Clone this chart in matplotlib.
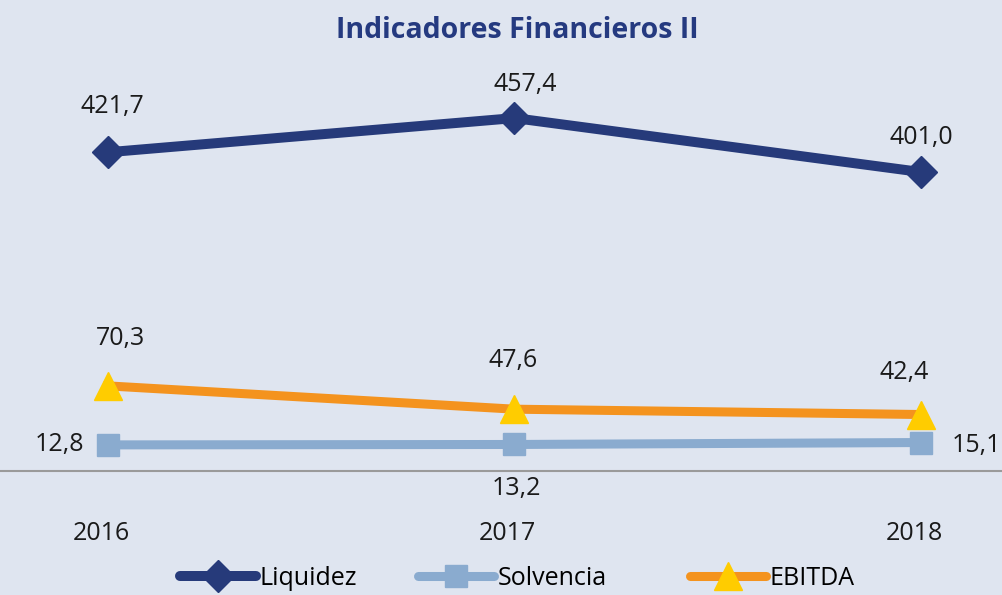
import numpy as np
import matplotlib.pyplot as plt
from matplotlib.lines import Line2D

# ----- datos -----
years = ["2016", "2017", "2018"]
liquidez = [421.7, 457.4, 401.0]
solvencia = [12.8, 13.2, 15.1]
ebitda = [70.3, 47.6, 42.4]

liq_labels = ["421,7", "457,4", "401,0"]
sol_labels = ["12,8", "13,2", "15,1"]
ebi_labels = ["70,3", "47,6", "42,4"]

bg = "#dfe5f0"
c_liq = "#263a7a"
c_sol = "#8aabcf"
c_ebi = "#f4931e"
c_tri = "#ffcc00"
c_txt = "#1a1a1a"

plt.rcParams['font.family'] = ['Open Sans', 'DejaVu Sans']

fig = plt.figure(figsize=(10.02, 5.95), dpi=100, facecolor=bg)
ax = fig.add_axes([0, 0, 1, 1])
ax.set_facecolor(bg)
ax.axis("off")
ax2 = ax.twinx()
ax2.axis("off")

x = np.arange(len(years))
ax.set_xlim(-0.2657, 2.1993)
ax2.set_xlim(-0.2657, 2.1993)
# eje principal: EBITDA y Solvencia
ax.set_ylim(-133.5, 446.4)
# eje secundario: Liquidez
ax2.set_ylim(-41.0, 580.8)

ax.axhline(-12.2, color="#9a9a9a", lw=1.5, zorder=1)

ax2.plot(x, liquidez, color=c_liq, lw=7.2, marker="D", ms=16.5,
         mfc=c_liq, mec=c_liq, zorder=3)
ax.plot(x, solvencia, color=c_sol, lw=6.5, marker="s", ms=16,
        mfc=c_sol, mec=c_sol, zorder=3)
ax.plot(x, ebitda, color=c_ebi, lw=6.5, marker="^", ms=20,
        mfc=c_tri, mec=c_tri, zorder=4)

fs = 18
liq_off = [(3, 33), (8, 24), (0, 25)]
for i, lab in enumerate(liq_labels):
    ax2.annotate(lab, (x[i], liquidez[i]), xytext=liq_off[i], textcoords="offset points",
                 ha="center", va="center", fontsize=fs, color=c_txt)
ebi_off = [(9, 34), (-1, 35), (-12, 30)]
for i, lab in enumerate(ebi_labels):
    ax.annotate(lab, (x[i], ebitda[i]), xytext=ebi_off[i], textcoords="offset points",
                ha="center", va="center", fontsize=fs, color=c_txt)
sol_off = [(-17, 0, "right"), (1.5, -32, "center"), (22, -2, "left")]
for i, lab in enumerate(sol_labels):
    dx, dy, ha = sol_off[i]
    ax.annotate(lab, (x[i], solvencia[i]), xytext=(dx, dy), textcoords="offset points",
                ha=ha, va="center", fontsize=fs, color=c_txt)

for i, yr in enumerate(years):
    ax.annotate(yr, (x[i], -73.1), xytext=(-5, 0), textcoords="offset points",
                ha="center", va="center", fontsize=fs, color=c_txt)

fig.text(0.516, 0.949, "Indicadores Financieros II", ha="center", va="center",
         fontsize=20.5, fontweight="bold", color="#253a80")

# leyenda: una entrada por posición
entries = [
    ("Liquidez", Line2D([], [], color=c_liq, lw=7.2, marker="D", ms=16.5, mfc=c_liq,
                        mec=c_liq, solid_capstyle="round"), 180),
    ("Solvencia", Line2D([], [], color=c_sol, lw=6.5, marker="s", ms=16, mfc=c_sol,
                         mec=c_sol, solid_capstyle="round"), 418),
    ("EBITDA", Line2D([], [], color=c_ebi, lw=6.5, marker="^", ms=20, mfc=c_tri,
                      mec=c_tri, solid_capstyle="round"), 690),
]
for name, h, xpx in entries:
    fig.legend([h], [name], loc="center left", bbox_to_anchor=(xpx / 1002, 0.028),
               frameon=False, fontsize=fs, handlelength=3.04, handletextpad=0.16,
               borderpad=0, borderaxespad=0)

fig.savefig("out.png", dpi=100, facecolor=bg)
